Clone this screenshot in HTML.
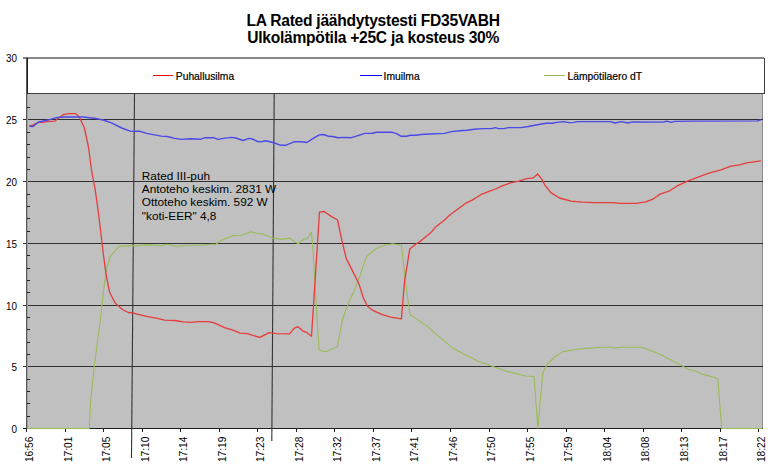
<!DOCTYPE html><html><head><meta charset="utf-8"><style>html,body{margin:0;padding:0;background:#fff;width:772px;height:472px;overflow:hidden}svg{display:block}text{font-family:"Liberation Sans",sans-serif}</style></head><body>
<svg width="772" height="472" viewBox="0 0 772 472">
<text x="373.2" y="26.4" text-anchor="middle" font-size="15.6" letter-spacing="-0.26" font-weight="bold" fill="#000">LA Rated jäähdytystesti FD35VABH</text>
<text x="373.2" y="42.7" text-anchor="middle" font-size="15.6" letter-spacing="-0.26" font-weight="bold" fill="#000">Ulkolämpötila +25C ja kosteus 30%</text>
<g shape-rendering="crispEdges">
<rect x="27" y="57" width="736" height="371" fill="#c0c0c0"/>
<rect x="762" y="57" width="1" height="371" fill="#8c8c8c"/>
<rect x="23" y="119" width="740" height="1" fill="#303030"/>
<rect x="23" y="181" width="740" height="1" fill="#303030"/>
<rect x="23" y="243" width="740" height="1" fill="#303030"/>
<rect x="23" y="305" width="740" height="1" fill="#303030"/>
<rect x="23" y="366" width="740" height="1" fill="#303030"/>
<rect x="27" y="416" width="3" height="1" fill="#202020"/>
<rect x="27" y="403" width="3" height="1" fill="#202020"/>
<rect x="27" y="391" width="3" height="1" fill="#202020"/>
<rect x="27" y="379" width="3" height="1" fill="#202020"/>
<rect x="27" y="354" width="3" height="1" fill="#202020"/>
<rect x="27" y="342" width="3" height="1" fill="#202020"/>
<rect x="27" y="329" width="3" height="1" fill="#202020"/>
<rect x="27" y="317" width="3" height="1" fill="#202020"/>
<rect x="27" y="292" width="3" height="1" fill="#202020"/>
<rect x="27" y="280" width="3" height="1" fill="#202020"/>
<rect x="27" y="268" width="3" height="1" fill="#202020"/>
<rect x="27" y="255" width="3" height="1" fill="#202020"/>
<rect x="27" y="231" width="3" height="1" fill="#202020"/>
<rect x="27" y="218" width="3" height="1" fill="#202020"/>
<rect x="27" y="206" width="3" height="1" fill="#202020"/>
<rect x="27" y="194" width="3" height="1" fill="#202020"/>
<rect x="27" y="169" width="3" height="1" fill="#202020"/>
<rect x="27" y="157" width="3" height="1" fill="#202020"/>
<rect x="27" y="144" width="3" height="1" fill="#202020"/>
<rect x="27" y="132" width="3" height="1" fill="#202020"/>
<rect x="27" y="107" width="3" height="1" fill="#202020"/>
<rect x="27" y="57" width="738" height="37" fill="#fff"/>
<rect x="23" y="57" width="741" height="2" fill="#888"/>
<rect x="764" y="58" width="1" height="36" fill="#404040"/>
<rect x="27" y="93" width="738" height="1" fill="#404040"/>
<rect x="26" y="57" width="1" height="372" fill="#585858"/>
<rect x="27" y="94" width="1" height="334" fill="#a0a0a0"/>
<rect x="27" y="58" width="1" height="36" fill="#202020"/>
<rect x="27" y="416" width="3" height="1" fill="#202020"/>
<rect x="27" y="403" width="3" height="1" fill="#202020"/>
<rect x="27" y="391" width="3" height="1" fill="#202020"/>
<rect x="27" y="379" width="3" height="1" fill="#202020"/>
<rect x="27" y="354" width="3" height="1" fill="#202020"/>
<rect x="27" y="342" width="3" height="1" fill="#202020"/>
<rect x="27" y="329" width="3" height="1" fill="#202020"/>
<rect x="27" y="317" width="3" height="1" fill="#202020"/>
<rect x="27" y="292" width="3" height="1" fill="#202020"/>
<rect x="27" y="280" width="3" height="1" fill="#202020"/>
<rect x="27" y="268" width="3" height="1" fill="#202020"/>
<rect x="27" y="255" width="3" height="1" fill="#202020"/>
<rect x="27" y="231" width="3" height="1" fill="#202020"/>
<rect x="27" y="218" width="3" height="1" fill="#202020"/>
<rect x="27" y="206" width="3" height="1" fill="#202020"/>
<rect x="27" y="194" width="3" height="1" fill="#202020"/>
<rect x="27" y="169" width="3" height="1" fill="#202020"/>
<rect x="27" y="157" width="3" height="1" fill="#202020"/>
<rect x="27" y="144" width="3" height="1" fill="#202020"/>
<rect x="27" y="132" width="3" height="1" fill="#202020"/>
<rect x="27" y="107" width="3" height="1" fill="#202020"/>
<rect x="23" y="428" width="740" height="1" fill="#202020"/>
<rect x="26" y="429" width="1" height="3" fill="#202020"/>
<rect x="65" y="429" width="1" height="3" fill="#202020"/>
<rect x="103" y="429" width="1" height="3" fill="#202020"/>
<rect x="142" y="429" width="1" height="3" fill="#202020"/>
<rect x="180" y="429" width="1" height="3" fill="#202020"/>
<rect x="219" y="429" width="1" height="3" fill="#202020"/>
<rect x="257" y="429" width="1" height="3" fill="#202020"/>
<rect x="296" y="429" width="1" height="3" fill="#202020"/>
<rect x="334" y="429" width="1" height="3" fill="#202020"/>
<rect x="373" y="429" width="1" height="3" fill="#202020"/>
<rect x="411" y="429" width="1" height="3" fill="#202020"/>
<rect x="450" y="429" width="1" height="3" fill="#202020"/>
<rect x="489" y="429" width="1" height="3" fill="#202020"/>
<rect x="527" y="429" width="1" height="3" fill="#202020"/>
<rect x="566" y="429" width="1" height="3" fill="#202020"/>
<rect x="604" y="429" width="1" height="3" fill="#202020"/>
<rect x="643" y="429" width="1" height="3" fill="#202020"/>
<rect x="681" y="429" width="1" height="3" fill="#202020"/>
<rect x="720" y="429" width="1" height="3" fill="#202020"/>
<rect x="758" y="429" width="1" height="3" fill="#202020"/>
</g>
<g><line x1="134.5" y1="93.5" x2="131.5" y2="458" stroke="#333" stroke-width="1.1"/>
<line x1="274.2" y1="93.5" x2="271.8" y2="441" stroke="#333" stroke-width="1.1"/></g>
<g shape-rendering="crispEdges">
<rect x="153" y="75" width="20" height="1" fill="#ff0000"/>
<rect x="360" y="75" width="22" height="1" fill="#0000ff"/>
<rect x="544" y="75" width="21" height="1" fill="#9bbb59"/>
</g>
<g font-size="10.3" fill="#000" stroke="#000" stroke-width="0.2">
<text x="175.8" y="80">Puhallusilma</text>
<text x="383.6" y="80">Imuilma</text>
<text x="567.6" y="80">Lämpötilaero dT</text>
</g>
<g font-size="11" fill="#000" text-anchor="end">
<text transform="translate(16.9,61.6) scale(0.9,1.05)">30</text>
<text transform="translate(16.9,123.6) scale(0.9,1.05)">25</text>
<text transform="translate(16.9,185.6) scale(0.9,1.05)">20</text>
<text transform="translate(16.9,247.6) scale(0.9,1.05)">15</text>
<text transform="translate(16.9,309.6) scale(0.9,1.05)">10</text>
<text transform="translate(16.9,370.6) scale(0.9,1.05)">5</text>
<text transform="translate(16.9,432.6) scale(0.9,1.05)">0</text>
</g>
<g font-size="10.2" fill="#000" text-anchor="end">
<text transform="translate(33.0,436.6) rotate(-90)">16:56</text>
<text transform="translate(71.5,436.6) rotate(-90)">17:01</text>
<text transform="translate(110.1,436.6) rotate(-90)">17:05</text>
<text transform="translate(148.6,436.6) rotate(-90)">17:10</text>
<text transform="translate(187.1,436.6) rotate(-90)">17:14</text>
<text transform="translate(225.6,436.6) rotate(-90)">17:19</text>
<text transform="translate(264.2,436.6) rotate(-90)">17:23</text>
<text transform="translate(302.7,436.6) rotate(-90)">17:28</text>
<text transform="translate(341.2,436.6) rotate(-90)">17:32</text>
<text transform="translate(379.7,436.6) rotate(-90)">17:37</text>
<text transform="translate(418.3,436.6) rotate(-90)">17:41</text>
<text transform="translate(456.8,436.6) rotate(-90)">17:46</text>
<text transform="translate(495.3,436.6) rotate(-90)">17:50</text>
<text transform="translate(533.8,436.6) rotate(-90)">17:55</text>
<text transform="translate(572.4,436.6) rotate(-90)">17:59</text>
<text transform="translate(610.9,436.6) rotate(-90)">18:04</text>
<text transform="translate(649.4,436.6) rotate(-90)">18:08</text>
<text transform="translate(687.9,436.6) rotate(-90)">18:13</text>
<text transform="translate(726.5,436.6) rotate(-90)">18:17</text>
<text transform="translate(765.0,436.6) rotate(-90)">18:22</text>
</g>
<g font-size="11.8" fill="#000">
<text x="141.8" y="179.80">Rated III-puh</text>
<text x="141.8" y="193.05">Antoteho keskim. 2831 W</text>
<text x="141.8" y="206.30">Ottoteho keskim. 592 W</text>
<text x="141.8" y="219.55">&quot;koti-EER&quot; 4,8</text>
</g>
<polyline points="27,428.5 89.2,428.5 90.9,398.4 94.4,365 100.4,320 102.9,296 105.4,277.3 107.1,267 110.5,256.1 119,246.4 127.5,245.9 135.9,245.9 141,245.1 150,244.9 160.7,245.8 166.5,244.3 175.3,246.2 188.9,245.3 200.5,245.3 211.2,244.3 216.1,244.3 221.9,240 233.5,235.5 241.3,235.2 251,231.7 255.9,233.2 261.7,233.6 272.4,238.1 282.1,239.4 289.9,238.1 293.6,241.2 298.3,243.7 303.7,239.3 307.1,238.6 311.4,232.2 313.1,250.8 314.7,280 319.1,350.2 325.8,351.7 337.3,346.7 340,333 342,321.5 345.8,310 350,299.6 353.8,291.4 360.1,275.5 366.5,256.5 376,248.6 384.4,245.2 392.9,243.8 401.4,245.2 405.6,282.9 409.9,314.5 426.9,325.9 437.3,335.2 452.8,348.1 464.2,354.3 477.7,361.1 492.2,366.3 505.7,371.1 516.1,373.6 525.4,376 534,376.5 537.9,428.3 542.7,373.2 547,364.6 554.6,357 563.2,351.6 576.2,349.5 584.8,348.4 594.6,347.9 599.3,347.3 611,347.3 615.6,348.2 620.3,347.3 641.3,347.3 646,348.7 657.6,353.3 670.4,359.8 683.3,366.6 687.9,369.2 694.9,370.8 701.9,374.3 708.9,375.9 717.8,378.5 721.7,428.5 762.5,428.5" fill="none" stroke="#9bbb59" stroke-width="1.1" stroke-linejoin="round"/>
<polyline points="29.3,125.8 32.7,125.1 38.6,122.4 42.9,122.4 47.1,121.7 54.7,121.2 59,117.8 64,114.4 69.2,113.6 75.9,113.6 79.3,117 84.4,128 88.6,147.5 91.5,170 95.3,190.3 98.6,214 101.7,240 103.7,257 106.3,275.6 109.7,292.5 115.6,303.6 122.4,309.5 128.3,312.5 132.5,312.9 139.3,314.6 147.8,316.6 156.2,318.2 164.5,320.1 174.9,320.5 183.2,321.8 191.5,322.4 197.7,321.6 208,321.6 214.2,322.8 224.6,327.6 232.9,330.1 240.2,333.2 247.4,333.6 253.6,335.6 259.8,337.3 269.2,332.7 276.4,333.6 289.5,333.9 294.3,328.2 298.1,326.7 302.9,331.1 306.7,332.4 311.5,336.2 319.5,212.2 324.1,211.5 330.8,216.1 337.6,220 341.9,240.7 346.3,258.6 353.8,273.4 359,284 363.3,297.7 367.5,306.2 372.8,310.4 382.3,314.7 390.8,317.2 401.4,318.9 404.6,280.8 409.8,249 416.2,243.8 420,241.6 430.4,233.1 435.3,227.3 444,220.5 449.8,215.1 457.6,209.2 465.4,203.4 472.2,200.1 480.9,194.7 487.7,191.8 495.5,189 502.3,185.9 511,182.6 518.8,181.1 526.6,178.7 533.4,177.8 537.6,173.9 542.1,179.7 544.7,184.8 550.9,192.6 559.4,198 571.1,201.1 582,202.2 594.4,202.7 613.1,202.7 619.3,203.4 636.4,203.4 645.8,201.9 653.5,198.8 660,194.1 669.7,190.8 676.8,186.2 686.8,181.3 698.2,177.1 708.2,173.4 721,169.9 731,166.2 739.5,164.8 746.6,162.8 760.9,160.8" fill="none" stroke="#e63c3c" stroke-width="1.3" stroke-linejoin="round"/>
<polyline points="29.3,126.3 32.7,126.6 38.6,122 47.1,120.3 55.6,117.8 64,117 82.7,117 94.6,118.3 103,120 111.5,122.9 121.7,128 131,131.4 139.3,131.1 146.6,133.4 161.1,136.1 167.3,136.5 174.6,138.4 181.8,139.4 190.1,138.8 200.5,139.2 205.6,137.6 213.9,137.8 218.1,139.4 223.3,138.4 231.6,137.4 235.7,138 243,140.5 249.2,138.4 252.3,139 257.5,141.5 260.6,141.9 265.8,140.7 273,142.5 280.3,145.2 286.2,145.2 294.5,141.7 301.8,141.7 306.9,142.5 313.2,138.4 319.4,134.9 323.5,134.5 328.7,136.3 332.8,136.5 338,137.8 344.2,137.4 350.5,137.8 358.8,135.3 365,133.4 372.2,133.2 376.4,132.2 391.9,132.2 397.1,133.8 401.2,136.3 406.4,136.3 410.6,135.3 415.8,135.3 420.9,134.5 429.2,134 444.2,133.4 451.4,131.6 459.9,130.8 467,130.2 474.2,129.2 482.7,128.6 491.3,128.6 495.5,127.6 498.4,128.6 504,128.6 508.3,127.6 521.2,127.6 528.3,126.5 540,124.3 546.2,123.3 552.4,123.3 556.6,122.4 563.8,121.6 569,122.6 574.2,122.4 577.3,121.6 610.5,121.6 615,123 621.2,121.6 628,123 632.6,121.9 662.7,122.1 666.8,121.2 671,122.4 675.1,121.4 695,121.1 757.4,120.9 761,119.8" fill="none" stroke="#4a4ae6" stroke-width="1.4" stroke-linejoin="round"/>
</svg></body></html>
